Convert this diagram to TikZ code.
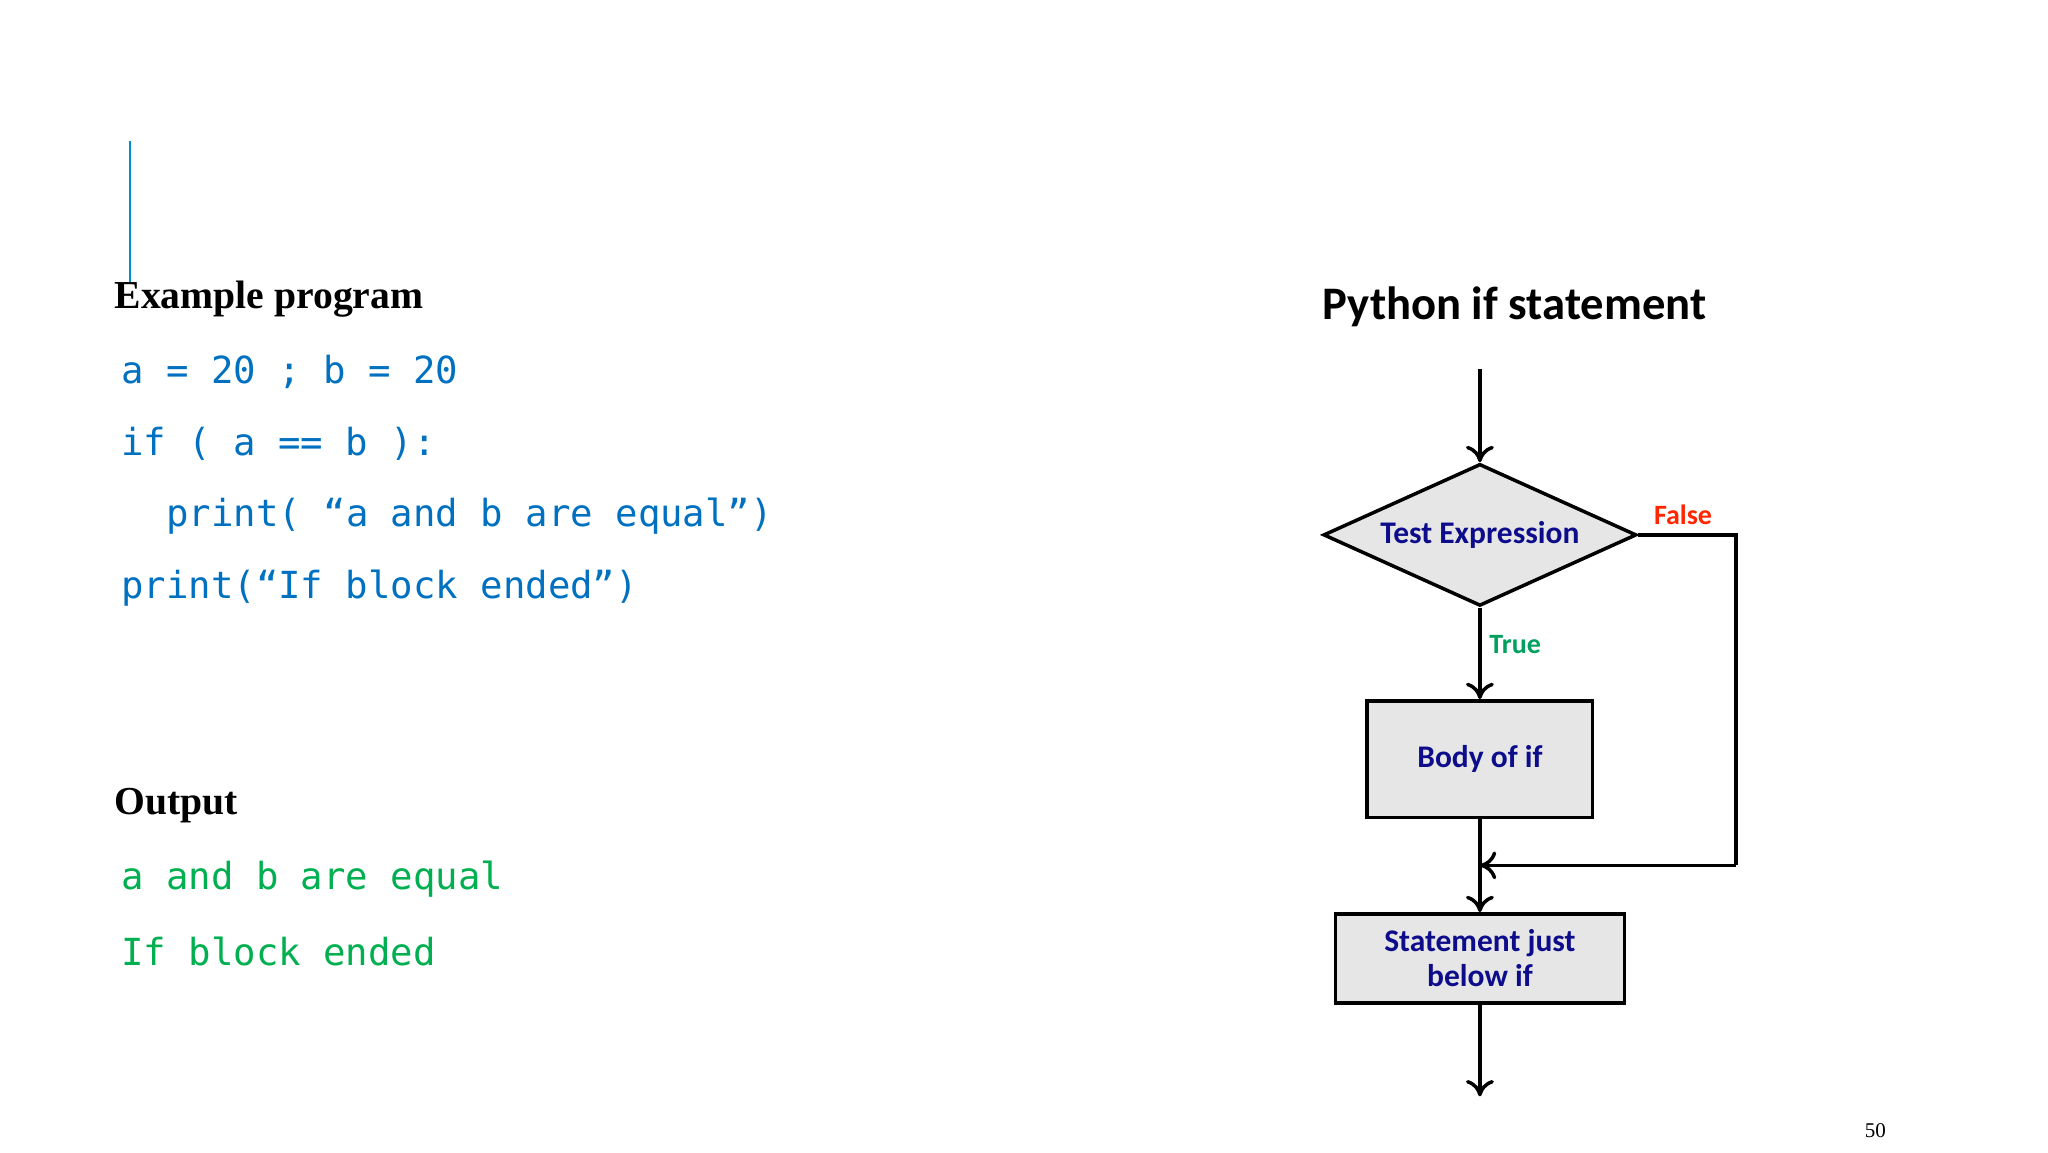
\documentclass[tikz,border=0pt]{standalone}
\usepackage{fontspec}
\usetikzlibrary{shapes.geometric,arrows.meta}
\setmainfont{Liberation Serif}
\newfontfamily\codef{DejaVu Sans Mono}
\newfontfamily\diagf{Carlito}
\definecolor{codeblue}{HTML}{0070C0}
\definecolor{codegreen}{HTML}{00B050}
\definecolor{boxgray}{HTML}{E6E6E6}
\definecolor{dblue}{HTML}{0D0D8C}
\begin{document}
\begin{tikzpicture}[x=0.02cm,y=-0.02cm,
  code/.style={anchor=west,inner sep=0,font=\codef\fontsize{16}{18}\selectfont},
  head/.style={anchor=west,inner sep=0,font=\bfseries\fontsize{17}{20}\selectfont},
  box/.style={draw,line width=1.5pt,fill=boxgray,text=dblue,font=\diagf\bfseries\fontsize{13.5}{15}\selectfont,align=center,inner sep=0},
  conn/.style={line width=1.5pt,-{To[length=7pt,width=12pt,line width=1.5pt]}}]
\useasboundingbox (0,0) rectangle (1543,868);
\draw[line width=1.2pt,color=codeblue!80!cyan] (98,106) -- (98,213);
\node[head] (h1) at (86,225) {Example program};
\node[code,text=codeblue] (c1) at (91,280) {a = 20 ; b = 20};
\node[code,text=codeblue] (c2) at (91,334) {if ( a == b ):};
\node[code,text=codeblue] (c3) at (125,389) {print( “a and b are equal”)};
\node[code,text=codeblue] (c4) at (91,443) {print(“If block ended”)};
\node[head] (h2) at (86,607) {Output};
\node[code,text=codegreen] (o1) at (91,662) {a and b are equal};
\node[code,text=codegreen] (o2) at (91,717) {If block ended};
\node[font=\diagf\bfseries\fontsize{20}{24}\selectfont,inner sep=0] (title) at (1141,231) {Python if statement};
\coordinate (top) at (1115,278);
\node[box,diamond,minimum width=236\pgflinewidth,aspect=2.2,minimum width=4.72cm,minimum height=2.14cm] (test) at (1115,403) {Test Expression};
\node[box,minimum width=3.4cm,minimum height=1.76cm] (body) at (1115,572) {Body of if};
\node[box,minimum width=4.36cm,minimum height=1.34cm] (stmt) at (1115,722) {Statement just\\below if};
\coordinate (bot) at (1115,826);
\coordinate (fr) at (1308,403);
\coordinate (fb) at (1308,652);
\coordinate (join) at (1115,652);
\draw[conn] (top) -- (test.north);
\draw[conn] (test.south) -- node[right,pos=0.4,text=codegreen!70!teal,font=\diagf\bfseries\fontsize{12}{14}\selectfont]{True} (body.north);
\draw[conn] (body.south) -- (stmt.north);
\draw[line width=1.5pt] (test.east) -- (fr) -- (fb);
\draw[conn] (fb) -- (join);
\draw[conn] (stmt.south) -- (bot);
\node[text=red!70!orange,font=\diagf\bfseries\fontsize{12}{14}\selectfont] (false) at (1268,388) {False};
\node[font=\fontsize{9}{10}\selectfont] (pg) at (1413,852) {50};
\end{tikzpicture}
\end{document}
